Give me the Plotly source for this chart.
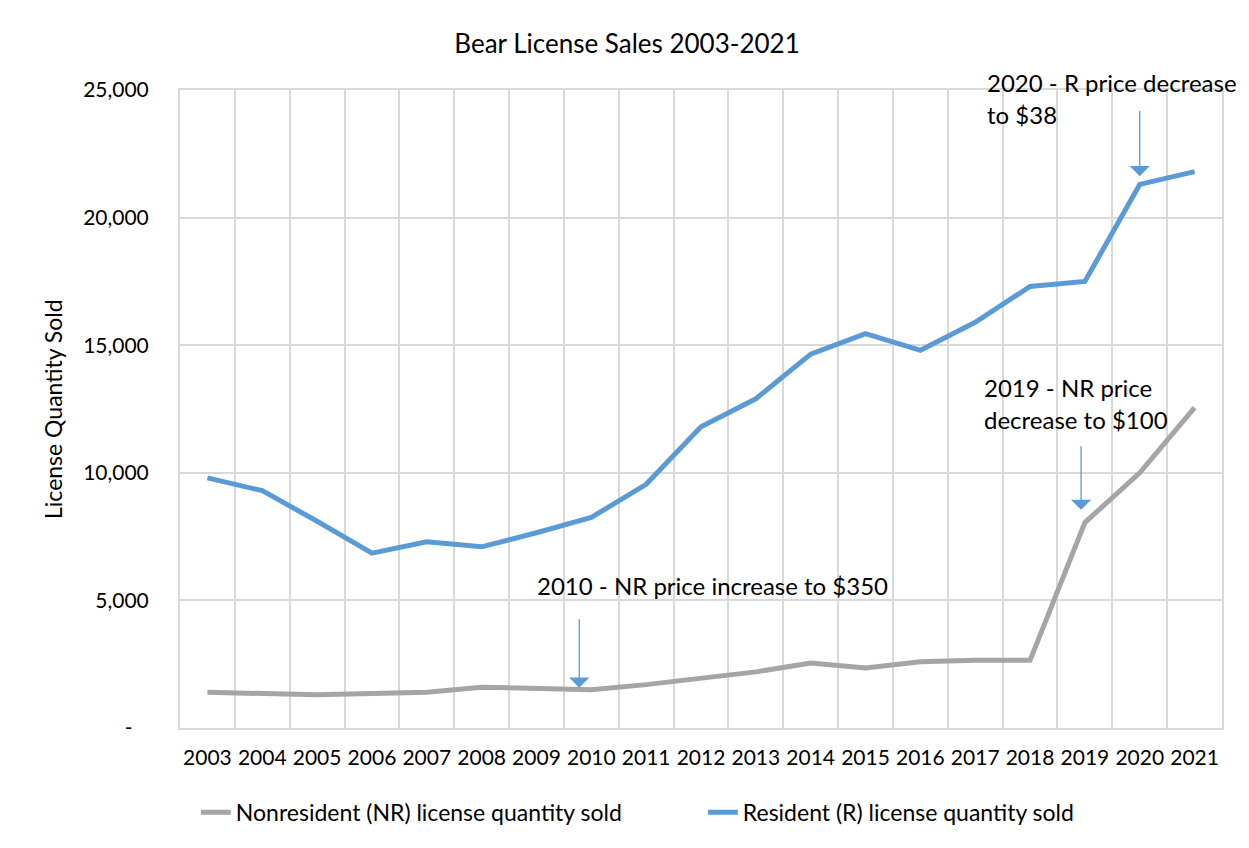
import plotly.graph_objects as go

years = [str(y) for y in range(2003, 2022)]
nonresident = [1400, 1350, 1300, 1350, 1400, 1600, 1550, 1500, 1700, 1950, 2200, 2550,
               2350, 2600, 2650, 2650, 8050, 10000, 12550]
resident = [9800, 9300, 8100, 6850, 7300, 7100, 7650, 8250, 9550, 11800, 12900, 14650,
            15450, 14800, 15900, 17300, 17500, 21300, 21800]
y_tickvals = [0, 5000, 10000, 15000, 20000, 25000]
y_ticktext = ["-\u00a0\u00a0\u00a0", "5,000", "10,000", "15,000", "20,000", "25,000"]

title = "Bear License Sales 2003-2021"
nr_name = "Nonresident (NR) license quantity sold"
r_name = "Resident (R) license quantity sold"

FONT = "Lato, 'Open Sans', sans-serif"
BLUE = "#5B9BD5"
GRAY = "#A5A5A5"
GRID = "#D9D9D9"

fig = go.Figure()
fig.add_trace(go.Scatter(x=years, y=nonresident, mode="lines", name=nr_name,
                         line=dict(color=GRAY, width=5)))
fig.add_trace(go.Scatter(x=years, y=resident, mode="lines", name=r_name,
                         line=dict(color=BLUE, width=5)))

# arrows (tip positions relative to series values)
arrows = [
    (years.index("2010") - 0.22, nonresident[years.index("2010")] + 80, -70),
    (years.index("2019") - 0.07, nonresident[years.index("2019")] + 500, -65),
    (years.index("2020"), resident[years.index("2020")] + 320, -67),
]
for ax_x, ax_y, off in arrows:
    fig.add_annotation(x=ax_x, y=ax_y, xref="x", yref="y", text="", showarrow=True,
                       ax=0, ay=off, arrowhead=1, arrowsize=2.6, arrowwidth=1.3,
                       arrowcolor=BLUE, standoff=0)

notes = [
    ("2010 - NR price increase to $350", 0.5115, 0.2226, "center"),
    ("2020 - R price decrease", 0.7726, 1.012, "left"),
    ("to $38", 0.7726, 0.962, "left"),
    ("2019 - NR price", 0.7697, 0.534, "left"),
    ("decrease to $100", 0.7697, 0.484, "left"),
]
for txt, px, py, anc in notes:
    fig.add_annotation(x=px, y=py, xref="paper", yref="paper", text=txt, showarrow=False,
                       xanchor=anc, yanchor="middle", font=dict(family=FONT, size=24, color="#000"))

fig.add_annotation(x=-0.1219, y=0.5, xref="paper", yref="paper", text="License Quantity Sold",
                   textangle=-90, showarrow=False, xanchor="center", yanchor="middle",
                   font=dict(family=FONT, size=23, color="#000"))

# chart border
fig.add_shape(type="rect", xref="paper", yref="paper", x0=-0.166, x1=1.021, y0=-0.3, y1=1.1332,
              line=dict(color=GRID, width=2), layer="below")

fig.update_layout(
    width=1241, height=840,
    margin=dict(l=172, r=27, t=82, b=120),
    paper_bgcolor="white", plot_bgcolor="white",
    font=dict(family=FONT, size=21, color="#000"),
    title=dict(text=title, x=0.4988, xref="container", y=1 - 36 / 840, yref="container",
               xanchor="center", yanchor="middle", font=dict(family=FONT, size=26, color="#000")),
    showlegend=True,
    legend=dict(orientation="h", x=0.0152, y=-0.132, xanchor="left", yanchor="middle",
                entrywidth=462, entrywidthmode="pixels",
                font=dict(family=FONT, size=23, color="#000"), bgcolor="rgba(0,0,0,0)"),
    xaxis=dict(type="category", tickson="boundaries", showgrid=True, gridcolor=GRID, gridwidth=2,
               showline=True, linecolor=GRID, linewidth=2, mirror=True, ticks="",
               range=[-0.5, 18.5], ticklabelstandoff=10, tickangle=0,
               tickfont=dict(family=FONT, size=21, color="#000")),
    yaxis=dict(range=[0, 25000], tickvals=y_tickvals, ticktext=y_ticktext, showgrid=True,
               gridcolor=GRID, gridwidth=2, showline=True, linecolor=GRID, linewidth=2, mirror=True,
               zeroline=False, ticks="", ticklabelstandoff=25,
               tickfont=dict(family=FONT, size=21, color="#000")),
)

fig.write_html("out.html")
